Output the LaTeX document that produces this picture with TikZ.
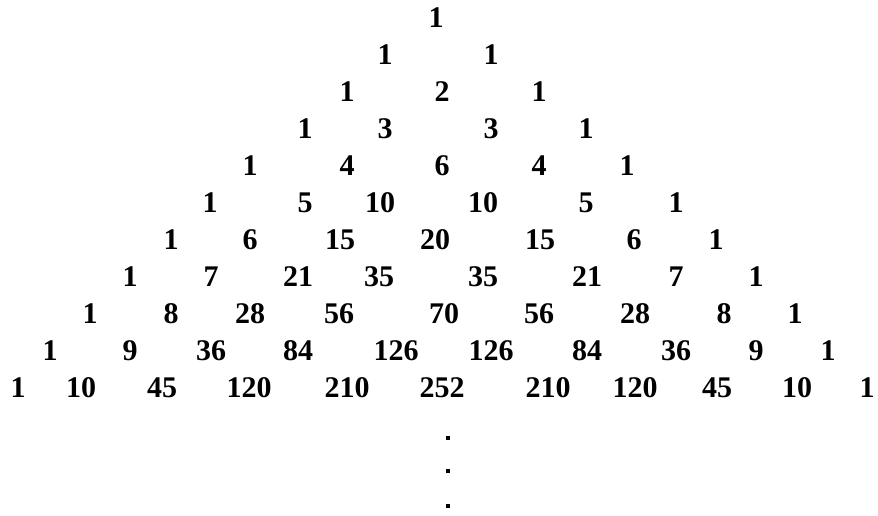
\documentclass[tikz,border=0pt]{standalone}
\usepackage{fontspec}
\setmainfont{Liberation Serif}
\usepackage{tikz}

\begin{document}
\begin{tikzpicture}[x=1pt,y=-1pt,
  num/.style={inner sep=0pt,font=\fontsize{30}{30}\selectfont\bfseries},
  vdot/.style={rectangle,fill=black,inner sep=0pt,minimum size=4pt}]
  \useasboundingbox (0,0) rectangle (878,516);
  \foreach \x/\v [count=\k] in {436/1}
    {\node[num] (r0-\k) at (\x,18) {\v};}
  \foreach \x/\v [count=\k] in {385/1,491/1}
    {\node[num] (r1-\k) at (\x,55) {\v};}
  \foreach \x/\v [count=\k] in {347/1,442/2,539/1}
    {\node[num] (r2-\k) at (\x,92) {\v};}
  \foreach \x/\v [count=\k] in {305/1,385/3,491/3,586/1}
    {\node[num] (r3-\k) at (\x,129) {\v};}
  \foreach \x/\v [count=\k] in {250/1,347/4,442/6,539/4,627/1}
    {\node[num] (r4-\k) at (\x,166) {\v};}
  \foreach \x/\v [count=\k] in {210/1,305/5,380/10,483/10,586/5,676/1}
    {\node[num] (r5-\k) at (\x,203) {\v};}
  \foreach \x/\v [count=\k] in {171/1,250/6,340/15,435/20,540/15,634/6,716/1}
    {\node[num] (r6-\k) at (\x,240) {\v};}
  \foreach \x/\v [count=\k] in {130/1,211/7,298/21,379/35,483/35,587/21,676/7,756/1}
    {\node[num] (r7-\k) at (\x,277) {\v};}
  \foreach \x/\v [count=\k] in {90/1,171/8,250/28,339/56,444/70,539/56,635/28,724/8,795/1}
    {\node[num] (r8-\k) at (\x,314) {\v};}
  \foreach \x/\v [count=\k] in {50/1,130/9,211/36,298/84,396/126,491/126,587/84,676/36,756/9,828/1}
    {\node[num] (r9-\k) at (\x,351) {\v};}
  \foreach \x/\v [count=\k] in {18/1,81/10,162/45,249/120,347/210,442/252,548/210,635/120,717/45,797/10,867/1}
    {\node[num] (r10-\k) at (\x,388) {\v};}
  % continuation dots
  \foreach \y [count=\k] in {438,471,506}
    {\node[vdot] (d\k) at (448,\y) {};}
\end{tikzpicture}
\end{document}
